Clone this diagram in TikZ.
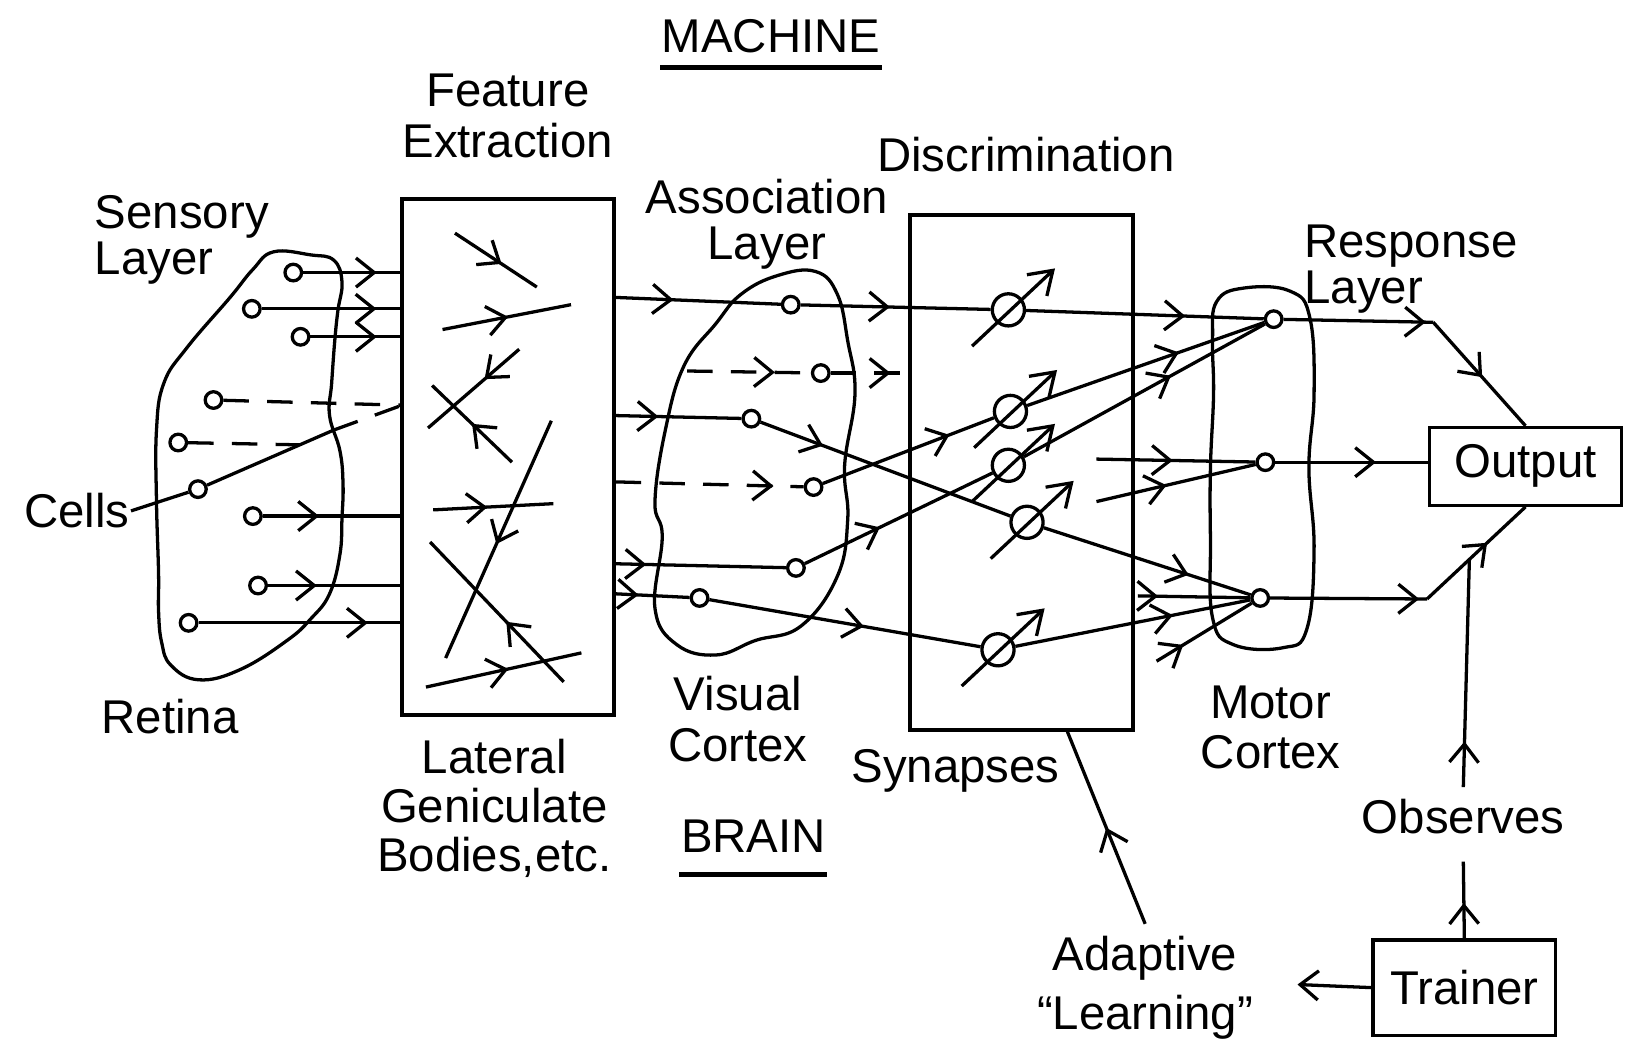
\documentclass[tikz,border=0pt]{standalone}
\usepackage{fontspec}
\setmainfont{Liberation Sans}
\usetikzlibrary{arrows.meta,decorations.markings,calc}

\begin{document}
\begin{tikzpicture}[x=0.01cm,y=-0.01cm,line width=0.9pt,
  lbl/.style={inner sep=0pt,font=\fontsize{13}{14}\selectfont},
  cell/.style={draw,circle,inner sep=0pt,minimum size=1.6mm},
  syn/.style={draw,circle,inner sep=0pt,minimum size=3.1mm},
  panel/.style={draw,line width=1.1pt,inner sep=0pt},
  gapline/.style={dash pattern=on 7pt off 5pt},
  flow/.style={postaction={decorate},decoration={markings,
    mark=at position #1 with {\arrow{Straight Barb[length=5pt,width=8pt]}}}},
  flow/.default=0.5,
  knob/.style={-{Straight Barb[length=6pt,width=8pt]}}]
\useasboundingbox (0,0) rectangle (1568,1004);

\draw plot[smooth cycle,tension=0.7] coordinates {(264,243) (300,246) (322,251) (330,272)
  (326,300) (323,329) (320,370) (318,401) (328,435) (331,467) (330,500) (328,535) (318,573)
  (300,597) (277,618) (232,646) (192,656) (165,642) (156,620) (153,590) (153,553) (151,484)
  (151,415) (158,370) (180,336) (222,287) (244,260)};
\draw plot[smooth cycle,tension=0.7] coordinates {(715,284) (750,266) (787,262) (808,284)
  (818,329) (825,380) (815,449) (818,501) (808,556) (773,604) (729,618) (691,632) (653,622)
  (632,587) (639,518) (632,484) (642,415) (660,353) (691,312)};
\draw plot[smooth cycle,tension=0.7] coordinates {(1174,291) (1200,278) (1245,281) (1264,307)
  (1268,380) (1263,451) (1268,530) (1261,607) (1238,625) (1190,622) (1170,596) (1168,520)
  (1168,451) (1171,380) (1170,327)};

\node[panel,minimum width=2.04cm,minimum height=4.98cm] (fx) at (490,441) {};
\node[panel,minimum width=2.15cm,minimum height=4.96cm] (disc) at (986,456) {};
\node[lbl,draw,minimum width=1.85cm,minimum height=0.75cm] (out) at (1472,450) {Output};
\node[lbl,draw,minimum width=1.76cm,minimum height=0.92cm] (trainer) at (1413,953) {Trainer};

\foreach \n/\x/\y in {1/283/263, 2/243/298, 3/290/325, 4/206/386, 5/172/427, 6/191/472,
7/244/498, 8/249/565, 9/182/601}
  \node[cell] (r\n) at (\x,\y) {};
\foreach \n/\x/\y in {1/763/294, 2/792/360, 3/725/404, 4/785/470, 5/768/548, 6/675/577}
  \node[cell] (a\n) at (\x,\y) {};
\foreach \n/\x/\y in {1/1229/308, 2/1221/446, 3/1216/577}
  \node[cell] (m\n) at (\x,\y) {};
\foreach \n/\x/\y in {1/973/299, 2/975/397, 3/973/449, 4/991/504, 5/963/627}
  \node[syn] (s\n) at (\x,\y) {};

\node[lbl,anchor=north] (machine) at (744,17) {MACHINE};
\draw[line width=1.3pt] ([yshift=-3.5pt]machine.south west) -- ([yshift=-3.5pt]machine.south east);
\node[lbl,anchor=north,align=center] (fe) at (490,70) {Feature\\Extraction};
\node[lbl,anchor=north] (discr) at (990,131) {Discrimination};
\node[lbl,anchor=north west,align=left] (sens) at (90,187) {Sensory\\[-1.5pt]Layer};
\node[lbl,anchor=north,align=center] (assoc) at (740,171) {Association\\[-1.2pt]Layer};
\node[lbl,anchor=north west,align=left] (resp) at (1257,215) {Response\\[-1.2pt]Layer};
\node[lbl] (cells) at (74,493) {Cells};
\node[lbl,anchor=north] (retina) at (164,673) {Retina};
\node[lbl,anchor=north,align=center] (lgb) at (477,712) {Lateral\\[-0.6pt]Geniculate\\[-0.6pt]Bodies,etc.};
\node[lbl,anchor=north,align=center] (vis) at (712,651) {Visual\\Cortex};
\node[lbl,anchor=north] (synl) at (922,722) {Synapses};
\node[lbl,anchor=north,align=center] (motor) at (1226,660) {Motor\\[-0.3pt]Cortex};
\node[lbl,anchor=north] (brain) at (727,790) {BRAIN};
\draw[line width=1.3pt] ([yshift=-5.5pt]brain.south west) -- ([yshift=-5.5pt]brain.south east);
\node[lbl,anchor=north] (obs) at (1412,770) {Observes};
\node[lbl,anchor=north,align=center] (adapt) at (1105,902) {Adaptive\\[2pt]“Learning”};

\foreach \n/\p in {1/0.76, 2/0.83, 3/0.74, 7/0.41, 8/0.37, 9/0.84}
  \draw[flow=\p] (r\n) -- (r\n -| fx.west);
\coordinate (g1) at (388,391);
\coordinate (kink) at (322,415);
\draw[gapline] (r4) -- (g1);
\draw (cells.east) -- (r6);
\draw (r6) -- (kink);
\draw[gapline] (kink) -- (g1);
\draw[gapline] (r5) -- ($(r6)!0.75!(kink)$);

\foreach \a/\b/\c/\d/\p in {439/225/518/277/0.57, 427/318/551/294/0.51, 501/337/413/413/0.38,
494/446/417/372/0.5, 418/492/534/486/0.45, 532/406/430/635/0.52, 544/658/415/523/0.43,
411/663/561/630/0.53}
  \draw[flow=\p] (\a,\b) -- (\c,\d);

\coordinate (d2) at (663,358);
\draw[flow=0.35] (fx.east |- 0,287) -- (a1);
\draw[gapline,flow=0.71] (d2) -- (a2);
\draw[flow=0.34] (fx.east |- 0,401) -- (a3);
\draw[gapline,flow=0.84] (fx.east |- 0,465) -- (a4);
\draw[flow=0.18] (fx.east |- 0,544) -- (a5);
\draw[flow=0.31] (fx.east |- 0,573) -- (a6);

\draw[flow=0.47] (a1) -- (s1);
\draw[gapline,flow=0.77] (a2) -- (a2 -| disc.west);
\draw[flow=0.25] (a3) -- (s4);
\draw[flow=0.74] (a4) -- (s2);
\draw[flow=0.40] (a5) -- (s3);
\draw[flow=0.57] (a6) -- (s5);
\foreach \i in {1,...,5}
  \draw[knob] ($(s\i)+(-35,35)$) -- ($(s\i)+(45,-40)$);

\coordinate (x1) at (1058,443);
\coordinate (x2) at (1058,484);
\coordinate (x3) at (1098,575);
\coordinate (x4) at (1116,638);
\draw[flow=0.67] (s1) -- (m1);
\draw[flow=0.64] (s2) -- (m1);
\draw[flow=0.61] (s3) -- (m1);
\draw[flow=0.48] (x1) -- (m2);
\draw[flow=0.44] (x2) -- (m2);
\draw[flow=0.70] (s4) -- (m3);
\draw[flow=0.18] (x3) -- (m3);
\draw[flow=0.67] (s5) -- (m3);
\draw[flow=0.28] (x4) -- (m3);

\coordinate (t1) at (1383,311);
\coordinate (t3) at (1377,578);
\draw[flow=0.95] (m1) -- (t1);
\draw[flow=0.53] (t1) -- (out.north);
\draw[flow=0.66] (m2) -- (m2 -| out.west);
\draw[flow=0.95] (m3) -- (t3);
\draw[flow=0.61] (t3) -- (out.south);
\coordinate (seen) at ($(t3)!0.43!(out.south)$);
\draw[flow=0.2] ([yshift=3pt]obs.north) -- (seen);
\draw[flow=0.46] (trainer.north) -- ([yshift=-7pt]obs.south);
\coordinate (teach) at (1252,950);
\draw[-{Straight Barb[length=5pt,width=8pt]}] (trainer.west) -- (teach);
\draw[flow=0.5] ([yshift=3pt]adapt.north) -- (1030,0 |- disc.south);
\end{tikzpicture}
\end{document}
